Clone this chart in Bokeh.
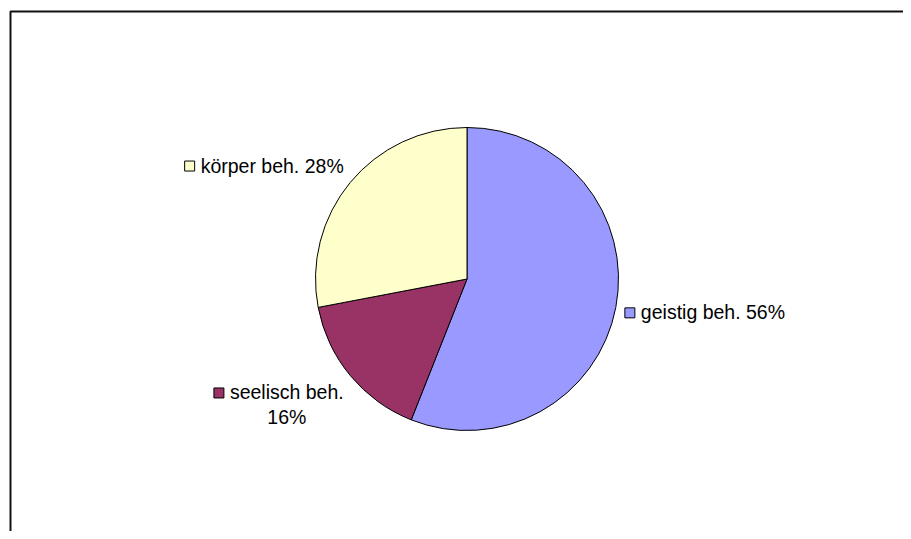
import math
from bokeh.plotting import figure
from bokeh.models import Range1d, ColumnDataSource
from bokeh.core.properties import value
from bokeh.embed import file_html
from bokeh.resources import INLINE

# ---- data ----
categories = ["geistig beh.", "seelisch beh.", "körper beh."]
percents = [56, 16, 28]
colors = ["#9999FF", "#993366", "#FFFFCC"]
wrap_label = [False, True, False]

# ---- layout / style ----
W, H = 903, 531
CX, CY = 466.5, 278.5          # pie centre in figure pixels (from left / from top)
R = 151.5
FONT = "Liberation Sans"
FS = 19.5
RX_RIGHT, RX_LEFT, RY = 177, 160, 178
LINE_GAP = 25

# Arial / Liberation Sans advance widths (1/1000 em)
CW = {' ': 278, '.': 278, '%': 889, 'a': 556, 'b': 556, 'c': 500, 'd': 556, 'e': 556,
      'g': 556, 'h': 556, 'i': 222, 'k': 500, 'l': 222, 'p': 556, 'r': 333, 's': 500,
      't': 278, 'ö': 556}
def text_w(s):
    return sum(CW.get(ch, 556) for ch in s) * FS / 1000.0

p = figure(width=W, height=H, output_backend="svg", toolbar_location=None,
           x_range=Range1d(-CX, W - CX), y_range=Range1d(-(H - CY), CY),
           min_border=0, outline_line_color=None)
p.axis.visible = False
p.grid.visible = False
p.background_fill_color = "white"
p.border_fill_color = "white"

# chart frame (only left and top edges visible inside the window)
fx = 10 - CX
fy = CY - 11
p.line(x=[fx, fx, W - CX + 10], y=[-(H - CY) - 10, fy, fy], line_color="#111111", line_width=2)

# wedges: start at 12 o'clock, clockwise
total = float(sum(percents))
starts, ends, mids = [], [], []
acc = 0.0
for v in percents:
    a0 = math.pi / 2 - 2 * math.pi * acc / total
    acc += v
    a1 = math.pi / 2 - 2 * math.pi * acc / total
    starts.append(a0)
    ends.append(a1)
    mids.append((a0 + a1) / 2)

src = ColumnDataSource(dict(start=starts, end=ends, color=colors))
p.wedge(x=0, y=0, radius=R, radius_units="screen", start_angle="start", end_angle="end",
        direction="clock", fill_color="color", line_color="black", line_width=1, source=src)

# labels
tx, ty, tt, ta = [], [], [], []
kx, ky, kc = [], [], []
for name, pct, col, wr, th in zip(categories, percents, colors, wrap_label, mids):
    lines = [name, f"{pct}%"] if wr else [f"{name} {pct}%"]
    widths = [text_w(s) for s in lines]
    wmax = max(widths)
    c, s = math.cos(th), math.sin(th)
    ay = RY * s
    if c >= 0:
        left = RX_RIGHT * c
    else:
        left = RX_LEFT * c - wmax
    for i, ln in enumerate(lines):
        if len(lines) > 1:
            tx.append(left + wmax / 2)
            ta.append("center")
        else:
            tx.append(left)
            ta.append("left")
        ty.append(ay - i * LINE_GAP)
        tt.append(ln)
    kx.append(left - 11)
    ky.append(ay - 0.5)
    kc.append(col)

p.rect(x=kx, y=ky, width=10, height=10, width_units="screen", height_units="screen",
       fill_color=kc, line_color="black", line_width=1)
p.text(x=tx, y=ty, text=tt, text_align=ta, text_baseline="middle",
       text_font=value(FONT), text_font_size=f"{FS}px", text_color="black")

open("out.html", "w").write(file_html(p, INLINE))
